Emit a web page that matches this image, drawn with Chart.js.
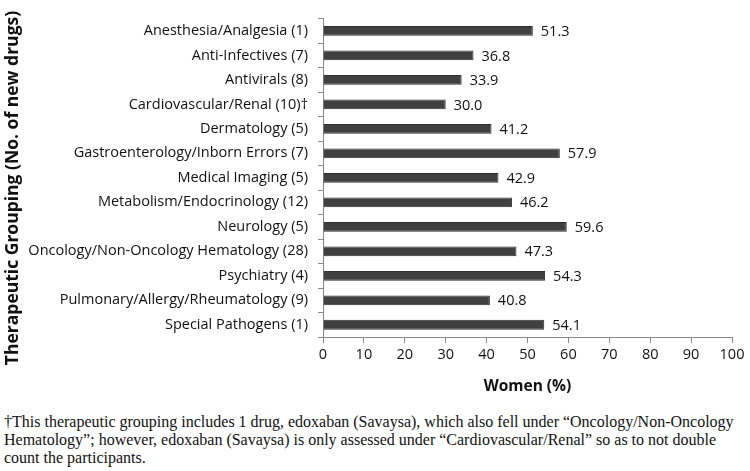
<!DOCTYPE html>
<html>
<head>
<meta charset="utf-8">
<script src="https://cdn.jsdelivr.net/npm/chart.js@4"></script>
<style>
  body { margin: 0; background: #fff; width: 750px; height: 471px; overflow: hidden; }
  #wrap { position: relative; width: 750px; height: 400px; }
  #note {
    position: absolute; left: 4px; top: 413px; width: 745px;
    font-family: "Liberation Serif", "DejaVu Serif", serif; font-size: 16px; line-height: 18px; color: #111;
  }
</style>
</head>
<body>
<div id="wrap"><canvas id="chart" width="750" height="400"></canvas></div>
<div id="note">†This therapeutic grouping includes 1 drug, edoxaban (Savaysa), which also fell under “Oncology/Non-Oncology Hematology”; however, edoxaban (Savaysa) is only assessed under “Cardiovascular/Renal” so as to not double count the participants.</div>
<script>
// chart data
const categories = [
    'Anesthesia/Analgesia (1)',
    'Anti-Infectives (7)',
    'Antivirals (8)',
    'Cardiovascular/Renal (10)†',
    'Dermatology (5)',
    'Gastroenterology/Inborn Errors (7)',
    'Medical Imaging (5)',
    'Metabolism/Endocrinology (12)',
    'Neurology (5)',
    'Oncology/Non-Oncology Hematology (28)',
    'Psychiatry (4)',
    'Pulmonary/Allergy/Rheumatology (9)',
    'Special Pathogens (1)'
];
const womenPct = [51.3, 36.8, 33.9, 30.0, 41.2, 57.9, 42.9, 46.2, 59.6, 47.3, 54.3, 40.8, 54.1];
const xTicks = [0, 10, 20, 30, 40, 50, 60, 70, 80, 90, 100];
const yTitle = 'Therapeutic Grouping (No. of new drugs)';

const FONT = '"Open Sans", "DejaVu Sans", sans-serif';

// value labels at the end of each bar, plus the rotated y title
const barLabels = {
    id: 'barLabels',
    afterDatasetsDraw(chart) {
        const ctx = chart.ctx;
        const meta = chart.getDatasetMeta(0);
        ctx.save();
        ctx.font = '14.5px ' + FONT;
        ctx.fillStyle = '#111';
        ctx.textBaseline = 'middle';
        ctx.textAlign = 'left';
        meta.data.forEach((bar, i) => {
            ctx.fillText(womenPct[i].toFixed(1), bar.x + 8, bar.y + 1);
        });
        ctx.restore();
    },
    afterDraw(chart) {
        const ctx = chart.ctx;
        ctx.save();
        ctx.translate(13, 188);
        ctx.rotate(-Math.PI / 2);
        ctx.font = 'bold 17.5px ' + FONT;
        ctx.fillStyle = '#111';
        ctx.textAlign = 'center';
        ctx.textBaseline = 'middle';
        ctx.fillText(yTitle, 0, 0);
        ctx.restore();
    }
};

new Chart(document.getElementById('chart'), {
    type: 'bar',
    data: {
        labels: categories,
        datasets: [{
            data: womenPct,
            backgroundColor: '#404040',
            borderColor: '#2e2e2e',
            borderWidth: 1,
            barPercentage: 0.4,
            categoryPercentage: 1
        }]
    },
    options: {
        indexAxis: 'y',
        responsive: false,
        animation: false,
        layout: { padding: { top: 2, right: 18, left: 0, bottom: 0 } },
        plugins: { legend: { display: false }, tooltip: { enabled: false } },
        scales: {
            x: {
                min: 0,
                max: 100,
                afterBuildTicks: (s) => { s.ticks = xTicks.map(v => ({ value: v })); },
                grid: { display: true, drawOnChartArea: false, tickLength: 6, color: '#888' },
                border: { color: '#888' },
                ticks: { font: { size: 14.5, family: FONT }, color: '#111', padding: 3 },
                title: { display: true, text: 'Women (%)', font: { size: 15.5, weight: 'bold', family: FONT }, color: '#111', padding: { top: 2 } },
                afterFit: (s) => { s.height = 63; }
            },
            y: {
                grid: { display: true, drawOnChartArea: false, tickLength: 5, color: '#888', offset: true },
                border: { color: '#888' },
                ticks: { font: { size: 14.5, family: FONT }, color: '#111', padding: 10, autoSkip: false },
                title: { display: false },
                afterFit: (s) => { s.width = 323; }
            }
        }
    },
    plugins: [barLabels]
});
</script>
</body>
</html>
